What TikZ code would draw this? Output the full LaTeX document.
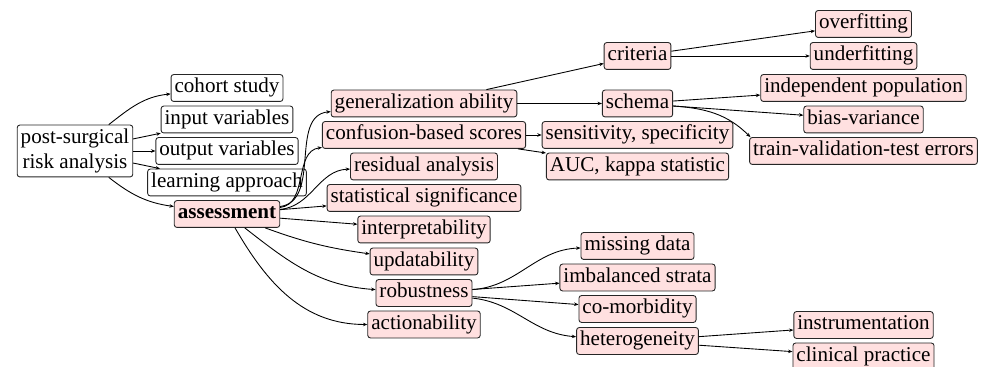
\documentclass[tikz,border=0pt]{standalone}
\usepackage{fontspec}
\setmainfont{Liberation Serif}
\usetikzlibrary{arrows.meta}

\begin{document}
\begin{tikzpicture}[
    root/.style={draw=black!85, line width=0.5pt, rounded corners=1.5pt,
                 inner xsep=2pt, inner ysep=2.3pt, align=center,
                 font=\fontsize{12}{14}\selectfont},
    topic/.style={draw=black!85, line width=0.5pt, rounded corners=1.5pt,
                  inner xsep=2pt, inner ysep=2.1pt,
                  text height=8.3pt, text depth=2.8pt,
                  font=\fontsize{12}{14}\selectfont},
    item/.style={topic, fill=red!12},
    arr/.style={-{Stealth[length=2.5pt,width=2pt]}, line width=0.5pt},
]
\useasboundingbox (0,0) rectangle (19.64,7.34);

% --- Root and first level ---
\node[root] (post) at (1.50,4.32) {post-surgical\\risk analysis};
\node[topic] (cohort) at (4.54,5.58) {cohort study};
\node[topic] (input) at (4.54,4.95) {input variables};
\node[topic] (output) at (4.54,4.32) {output variables};
\node[topic] (learning) at (4.54,3.69) {learning approach};
\node[item, font=\fontsize{12}{14}\selectfont\bfseries] (assess) at (4.54,3.06) {assessment};
\draw[arr] (post) to[out=38,in=186] (cohort);
\draw[arr] (post) -- (input);
\draw[arr] (post) -- (output);
\draw[arr] (post) -- (learning);
\draw[arr] (post) to[out=-38,in=172] (assess);

% --- Assessment criteria ---
\node[item] (general) at (8.48,5.27) {generalization ability};
\node[item] (confusion) at (8.48,4.64) {confusion-based scores};
\node[item] (residual) at (8.48,4.01) {residual analysis};
\node[item] (statsig) at (8.48,3.38) {statistical significance};
\node[item] (interp) at (8.48,2.75) {interpretability};
\node[item] (update) at (8.48,2.11) {updatability};
\node[item] (robust) at (8.48,1.48) {robustness};
\node[item] (action) at (8.48,0.85) {actionability};
\draw[arr] (assess) to[out=8,in=185] (general);
\draw[arr] (assess) to[out=7,in=187] (confusion);
\draw[arr] (assess) to[out=5,in=182] (residual);
\draw[arr] (assess) -- (statsig);
\draw[arr] (assess) -- (interp);
\draw[arr] (assess) to[out=-20,in=172] (update);
\draw[arr] (assess) to[out=-38,in=176] (robust);
\draw[arr] (assess) to[out=-60,in=180] (action);

% --- Generalization and scores ---
\node[item] (criteria) at (12.75,6.22) {criteria};
\node[item] (schema) at (12.75,5.27) {schema};
\node[item] (sensspec) at (12.75,4.64) {sensitivity, specificity};
\node[item] (auckappa) at (12.75,4.01) {AUC, kappa statistic};
\draw[arr] (general) -- (criteria);
\draw[arr] (general) -- (schema);
\draw[arr] (confusion) -- (sensspec);
\draw[arr] (confusion) -- (auckappa);

\node[item] (overfit) at (17.27,6.86) {overfitting};
\node[item] (underfit) at (17.27,6.22) {underfitting};
\node[item] (indep) at (17.27,5.58) {independent population};
\node[item] (biasvar) at (17.27,4.95) {bias-variance};
\node[item] (trainval) at (17.27,4.32) {train-validation-test errors};
\draw[arr] (criteria) -- (overfit);
\draw[arr] (criteria) -- (underfit);
\draw[arr] (schema) -- (indep);
\draw[arr] (schema) -- (biasvar);
\draw[arr] (schema) to[out=-4,in=135] (trainval.173);

% --- Robustness ---
\node[item] (missing) at (12.75,2.42) {missing data};
\node[item] (imbal) at (12.75,1.79) {imbalanced strata};
\node[item] (comorb) at (12.75,1.16) {co-morbidity};
\node[item] (hetero) at (12.75,0.52) {heterogeneity};
\draw[arr] (robust) to[out=4,in=182] (missing);
\draw[arr] (robust) -- (imbal);
\draw[arr] (robust) -- (comorb);
\draw[arr] (robust) to[out=-6,in=176] (hetero);

\node[item] (instrum) at (17.27,0.84) {instrumentation};
\node[item] (clinical) at (17.27,0.21) {clinical practice};
\draw[arr] (hetero) -- (instrum);
\draw[arr] (hetero) -- (clinical);

\end{tikzpicture}
\end{document}
